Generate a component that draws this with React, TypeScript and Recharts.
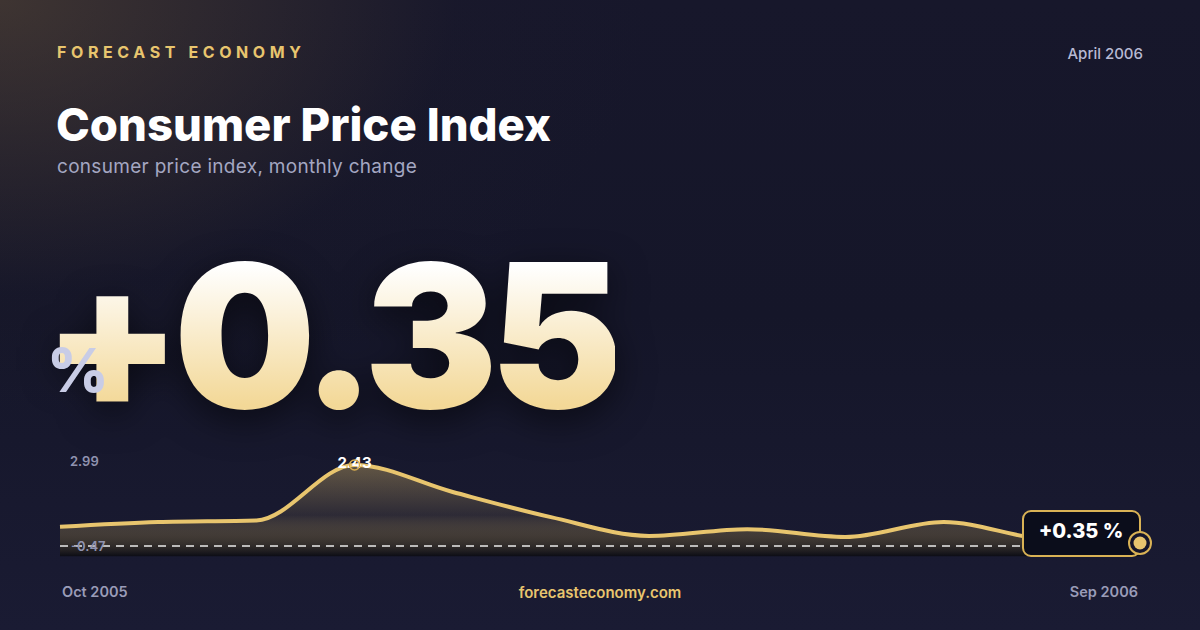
import { ComposedChart, Area, XAxis, YAxis, ReferenceLine } from "recharts";

const months = [
  "Oct 2005", "Nov 2005", "Dec 2005", "Jan 2006", "Feb 2006", "Mar 2006",
  "Apr 2006", "May 2006", "Jun 2006", "Jul 2006", "Aug 2006", "Sep 2006",
];
const cpiChange = [0.78, 0.91, 0.95, 2.43, 1.71, 1.04, 0.54, 0.72, 0.51, 0.91, 0.46, 0.35];
const rangeLabels = ["2.99", "-0.47"];
const yDomain = [-0.21, 2.99];
const guideValue = 0.27;

const data = months.map((month, i) => ({ month, value: cpiChange[i] }));
const peakIndex = cpiChange.indexOf(Math.max(...cpiChange));
const lastIndex = cpiChange.length - 1;
const latest = cpiChange[lastIndex];

const GOLD = "#e8c56e";
const font = "Inter, 'Noto Sans', sans-serif";

function MarkerDot(props: any) {
  const { cx, cy, index } = props;
  if (index === peakIndex) {
    return (
      <g key={`dot-${index}`}>
        <text
          x={cx}
          y={cy + 3}
          textAnchor="middle"
          fill="#ffffff"
          fontSize={15}
          fontWeight={700}
          fontFamily={font}
        >
          {cpiChange[index].toFixed(2)}
        </text>
        <circle cx={cx} cy={cy} r={5} fill="none" stroke="#d9ae50" strokeWidth={1.5} />
      </g>
    );
  }
  if (index === lastIndex) {
    return (
      <g key={`dot-${index}`}>
        <rect
          x={cx - 117}
          y={cy - 32}
          width={117}
          height={45}
          rx={8}
          fill="#0b0d1b"
          stroke="#d9b255"
          strokeWidth={2}
        />
        <text
          x={cx - 59}
          y={cy - 5}
          textAnchor="middle"
          fill="#ffffff"
          fontSize={20}
          fontWeight={800}
          fontFamily={font}
        >
          {`+${latest.toFixed(2)} %`}
        </text>
        <circle cx={cx} cy={cy} r={11} fill="#15152a" stroke="#d9b255" strokeWidth={2} />
        <circle cx={cx} cy={cy} r={6.5} fill={GOLD} />
      </g>
    );
  }
  return <g key={`dot-${index}`} />;
}

export default function App() {
  return (
    <div
      style={{
        position: "absolute",
        left: 0,
        top: 0,
        width: 1200,
        height: 630,
        overflow: "hidden",
        fontFamily: font,
        background:
          "radial-gradient(ellipse 650px 420px at 0% 0%, rgba(110,88,58,0.45), rgba(40,35,45,0.1) 70%, transparent 100%), linear-gradient(180deg, #17172b 0%, #151629 50%, #1a1b33 100%)",
      }}
    >
      <div
        style={{
          position: "absolute",
          left: 57,
          top: 44,
          fontSize: 16,
          fontWeight: 700,
          letterSpacing: 4.6,
          color: GOLD,
          lineHeight: 1,
        }}
      >
        FORECAST ECONOMY
      </div>
      <div
        style={{
          position: "absolute",
          right: 57,
          top: 46,
          fontSize: 15,
          fontWeight: 500,
          color: "#b8bad3",
          lineHeight: 1,
        }}
      >
        April 2006
      </div>
      <div
        style={{
          position: "absolute",
          left: 56,
          top: 102,
          fontSize: 45.5,
          fontWeight: 800,
          letterSpacing: 0,
          color: "#ffffff",
          lineHeight: 1,
        }}
      >
        Consumer Price Index
      </div>
      <div
        style={{
          position: "absolute",
          left: 57,
          top: 157,
          fontSize: 19,
          fontWeight: 400,
          letterSpacing: 0.3,
          color: "#a4a7c2",
          lineHeight: 1,
        }}
      >
        consumer price index, monthly change
      </div>

      <div
        style={{
          position: "absolute",
          left: 43,
          top: 235,
          fontSize: 200,
          fontWeight: 900,
          letterSpacing: -8,
          lineHeight: 1,
          background: "linear-gradient(180deg, #ffffff 15%, #f3d897 85%)",
          WebkitBackgroundClip: "text",
          backgroundClip: "text",
          color: "transparent",
          filter: "drop-shadow(0 10px 18px rgba(0,0,0,0.55))",
        }}
      >
        {`+${latest.toFixed(2)}`}
      </div>
      <div
        style={{
          position: "absolute",
          left: 47,
          top: 340,
          fontSize: 60,
          fontWeight: 800,
          color: "#c8cce6",
          lineHeight: 1,
        }}
      >
        %
      </div>

      <div style={{ position: "absolute", left: 0, top: 0 }}>
        <ComposedChart
          width={1200}
          height={630}
          data={data}
          margin={{ top: 444, right: 60, bottom: 66, left: 60 }}
        >
          <defs>
            <linearGradient id="cpiFill" x1="0" y1="0" x2="0" y2="1">
              <stop offset="0%" stopColor={GOLD} stopOpacity={0.36} />
              <stop offset="55%" stopColor={GOLD} stopOpacity={0.1} />
              <stop offset="100%" stopColor="#08080c" stopOpacity={0.75} />
            </linearGradient>
          </defs>
          <XAxis dataKey="month" hide padding={{ left: 0, right: 0 }} />
          <YAxis hide domain={yDomain} allowDataOverflow />
          <ReferenceLine
            y={guideValue}
            stroke="rgba(255,255,255,0.9)"
            strokeDasharray="8 6"
            strokeWidth={1.4}
          />
          <Area
            type="monotone"
            dataKey="value"
            stroke={GOLD}
            strokeWidth={4}
            fill="url(#cpiFill)"
            fillOpacity={1}
            dot={MarkerDot}
            activeDot={false}
            isAnimationActive={false}
          />
        </ComposedChart>
      </div>

      <div
        style={{
          position: "absolute",
          left: 70,
          top: 455,
          fontSize: 13,
          fontWeight: 600,
          color: "#9093b0",
          lineHeight: 1,
        }}
      >
        {rangeLabels[0]}
      </div>
      <div
        style={{
          position: "absolute",
          left: 71,
          top: 540,
          fontSize: 13,
          fontWeight: 600,
          color: "#9093b0",
          lineHeight: 1,
        }}
      >
        {rangeLabels[1]}
      </div>

      <div
        style={{
          position: "absolute",
          left: 62,
          top: 585,
          fontSize: 14.5,
          fontWeight: 600,
          color: "#9a9cb8",
          lineHeight: 1,
        }}
      >
        {months[0]}
      </div>
      <div
        style={{
          position: "absolute",
          left: 0,
          width: 1200,
          top: 585,
          textAlign: "center",
          fontSize: 15,
          fontWeight: 600,
          color: GOLD,
          lineHeight: 1,
        }}
      >
        forecasteconomy.com
      </div>
      <div
        style={{
          position: "absolute",
          right: 62,
          top: 585,
          fontSize: 14.5,
          fontWeight: 600,
          color: "#9a9cb8",
          lineHeight: 1,
        }}
      >
        {months[lastIndex]}
      </div>
    </div>
  );
}
